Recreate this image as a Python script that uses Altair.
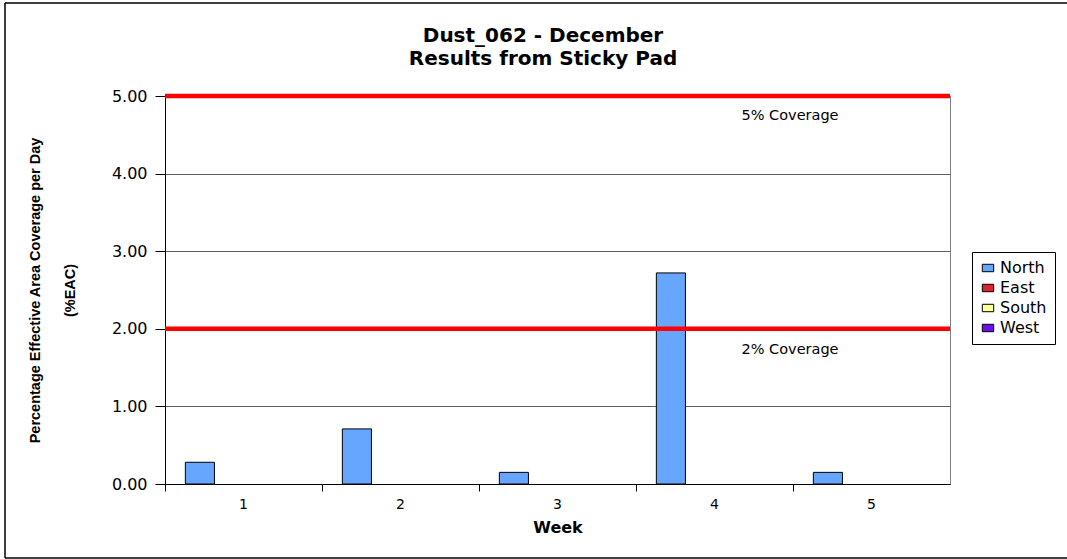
import altair as alt
import pandas as pd

# Weekly sticky-pad results, % effective area coverage per day
weeks = ["1", "2", "3", "4", "5"]
series = ["North", "East", "South", "West"]
north = [0.28, 0.71, 0.15, 2.72, 0.15]
east = [0, 0, 0, 0, 0]
south = [0, 0, 0, 0, 0]
west = [0, 0, 0, 0, 0]
colors = ["#66A6FF", "#DD2233", "#FFFF99", "#6611EE"]

# Reference thresholds
thresholds = [5.0, 2.0]
threshold_labels = ["5% Coverage", "2% Coverage"]
label_levels = [4.74, 1.73]

title_lines = ["Dust_062 - December", "Results from Sticky Pad"]

rows = []
for name, vals in zip(series, [north, east, south, west]):
    for w, v in zip(weeks, vals):
        rows.append({"Week": w, "Side": name, "Value": v})
bars_df = pd.DataFrame(rows)
lines_df = pd.DataFrame({"level": thresholds})
labels_df = pd.DataFrame({"level": label_levels, "text": threshold_labels})

FONT = "Liberation Sans"
WIDE = "DejaVu Sans"

y_scale = alt.Scale(domain=[0, 5], nice=False)

bars = alt.Chart(bars_df).mark_bar(stroke="black", strokeWidth=1).encode(
    x=alt.X(
        "Week:N",
        sort=weeks,
        scale=alt.Scale(paddingInner=0, paddingOuter=0),
        axis=alt.Axis(
            title="Week",
            titleFont=WIDE,
            titleFontSize=16,
            titleFontWeight="bold",
            titleColor="black",
            titlePadding=8,
            labelAngle=0,
            labelFont=WIDE,
            labelFontSize=14,
            labelColor="black",
            labelPadding=6,
            tickSize=7,
            tickColor="black",
            domainColor="black",
            bandPosition=0,
            grid=False,
        ),
    ),
    xOffset=alt.XOffset(
        "Side:N",
        sort=series,
        scale=alt.Scale(domain=series, paddingInner=0, paddingOuter=0.7),
    ),
    y=alt.Y(
        "Value:Q",
        scale=y_scale,
        axis=alt.Axis(
            title=["Percentage Effective Area Coverage per Day", "(%EAC)"],
            titleFont=FONT,
            titleFontSize=14.5,
            titleFontWeight="bold",
            titleColor="black",
            titleLineHeight=35,
            titlePadding=34,
            values=[0, 1, 2, 3, 4, 5],
            format=".2f",
            labelFont=WIDE,
            labelFontSize=16,
            labelColor="black",
            labelPadding=8,
            tickSize=10,
            tickColor="black",
            domainColor="black",
            gridColor="#606060",
            gridWidth=1,
        ),
    ),
    strokeOpacity=alt.condition(alt.datum.Value > 0, alt.value(1), alt.value(0)),
    color=alt.Color(
        "Side:N",
        sort=series,
        scale=alt.Scale(domain=series, range=colors),
        legend=alt.Legend(
            title=None,
            orient="none",
            legendX=807,
            legendY=156,
            labelFont=WIDE,
            labelFontSize=16,
            labelColor="black",
            symbolType="M-1,-0.65H1V0.65H-1Z",
            symbolSize=130,
            symbolStrokeColor="black",
            symbolStrokeWidth=1,
            symbolOpacity=1,
            rowPadding=4,
            padding=8,
            strokeColor="black",
            fillColor="white",
        ),
    ),
)

rules = alt.Chart(lines_df).mark_rule(color="#FF0000", strokeWidth=4.5).encode(
    y=alt.Y("level:Q", scale=y_scale)
)

labels = alt.Chart(labels_df).mark_text(
    font=WIDE, fontSize=14.5, color="black", align="center", baseline="middle"
).encode(
    x=alt.value(625),
    y=alt.Y("level:Q", scale=y_scale),
    text="text:N",
)

# Two-line chart heading placed above the plot area
heading = alt.Chart(pd.DataFrame({"k": [0]})).mark_text(
    font=WIDE, fontSize=20, fontWeight="bold", color="black",
    align="center", baseline="top", lineHeight=23
).encode(
    x=alt.value(378),
    y=alt.value(-70),
    text=alt.value(title_lines),
)

# Outer chart border (left, top and bottom edges)
edge = pd.DataFrame({"k": [0]})
border_left = alt.Chart(edge).mark_rule(color="black", strokeWidth=1.5).encode(
    x=alt.value(-160), y=alt.value(-93), y2=alt.value(462)
)
border_top = alt.Chart(edge).mark_rule(color="black", strokeWidth=1.5).encode(
    x=alt.value(-160), x2=alt.value(920), y=alt.value(-93)
)
border_bottom = alt.Chart(edge).mark_rule(color="black", strokeWidth=1.5).encode(
    x=alt.value(-160), x2=alt.value(920), y=alt.value(462)
)

chart = (
    alt.layer(bars, rules, labels, heading, border_left, border_top, border_bottom)
    .properties(
        width=785,
        height=388,
        autosize=alt.AutoSizeParams(type="none"),
        padding={"left": 165, "top": 96, "right": 117, "bottom": 75},
        background="white",
    )
    .configure_view(stroke="#808080", strokeWidth=1)
)

chart.save("out.html", embed_options={"renderer": "svg", "actions": False})
